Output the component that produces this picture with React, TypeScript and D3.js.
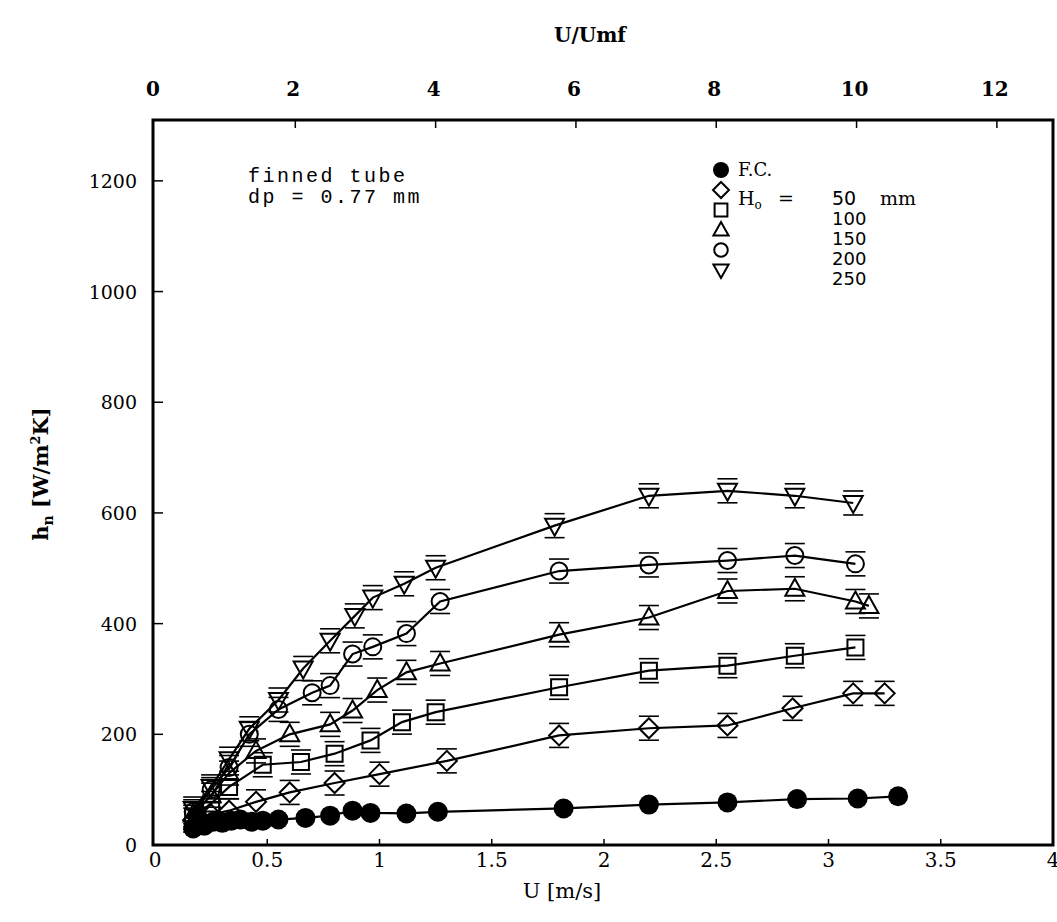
import React, { useEffect, useRef } from 'react';
import * as d3 from 'd3';

// U [m/s] -> h [W/m2K]
const fcData = [
  [0.17, 30], [0.19, 50], [0.22, 35], [0.26, 42], [0.3, 40], [0.34, 44], [0.38, 46],
  [0.43, 42], [0.48, 44], [0.55, 46], [0.67, 49], [0.78, 53], [0.88, 62], [0.96, 58],
  [1.12, 57], [1.26, 60], [1.82, 66], [2.2, 73], [2.55, 77], [2.86, 83], [3.13, 84], [3.31, 88],
];
const h50 = [
  [0.17, 45], [0.25, 55], [0.33, 62], [0.45, 78], [0.6, 95], [0.8, 112], [1.0, 128],
  [1.3, 152], [1.8, 198], [2.2, 211], [2.55, 216], [2.84, 247], [3.11, 274], [3.25, 274],
];
const h100 = [
  [0.17, 50], [0.25, 75], [0.33, 105], [0.48, 145], [0.65, 150], [0.8, 165], [0.96, 189],
  [1.1, 222], [1.25, 240], [1.8, 285], [2.2, 315], [2.55, 324], [2.85, 342], [3.12, 357],
];
const h150 = [
  [0.17, 55], [0.25, 90], [0.33, 130], [0.45, 170], [0.6, 200], [0.78, 218], [0.88, 243],
  [0.99, 280], [1.12, 312], [1.27, 328], [1.8, 380], [2.2, 411], [2.55, 459], [2.85, 463],
  [3.12, 440], [3.18, 432],
];
const h200 = [
  [0.17, 60], [0.25, 100], [0.33, 140], [0.42, 200], [0.55, 245], [0.7, 275], [0.78, 288],
  [0.88, 345], [0.97, 358], [1.12, 382], [1.27, 440], [1.8, 495], [2.2, 506], [2.55, 514],
  [2.85, 523], [3.12, 508],
];
const h250 = [
  [0.17, 65], [0.25, 105], [0.33, 155], [0.42, 210], [0.55, 262], [0.66, 319], [0.78, 369],
  [0.89, 414], [0.97, 447], [1.11, 472], [1.25, 501], [1.78, 577], [2.2, 631], [2.55, 640],
  [2.85, 631], [3.11, 618],
];

const xTicks = [0, 0.5, 1, 1.5, 2, 2.5, 3, 3.5, 4];
const xTickLabels = ['0', '0.5', '1', '1.5', '2', '2.5', '3', '3.5', '4'];
const topTicks = [0, 2, 4, 6, 8, 10, 12];
const yTicks = [0, 200, 400, 600, 800, 1000, 1200];
const legendLabels = ['F.C.', '50', '100', '150', '200', '250'];

const markerPath = (shape: string, s: number) => {
  switch (shape) {
    case 'diamond':
      return `M0,${-s}L${s},0L0,${s}L${-s},0Z`;
    case 'square':
      return `M${-s * 0.8},${-s * 0.8}H${s * 0.8}V${s * 0.8}H${-s * 0.8}Z`;
    case 'triangle':
      return `M0,${-s}L${s * 0.95},${s * 0.7}H${-s * 0.95}Z`;
    case 'tridown':
      return `M0,${s}L${s * 0.95},${-s * 0.7}H${-s * 0.95}Z`;
    default:
      return `M${s * 0.85},0A${s * 0.85},${s * 0.85} 0 1,1 ${-s * 0.85},0A${s * 0.85},${s * 0.85} 0 1,1 ${s * 0.85},0Z`;
  }
};

const App = () => {
  const ref = useRef<SVGSVGElement | null>(null);

  useEffect(() => {
    const width = 1057;
    const height = 922;
    const left = 155, right = 1053, top = 120, bottom = 845;

    const svg = d3.select(ref.current);
    svg.selectAll('*').remove();
    svg.attr('width', width).attr('height', height);

    svg.append('rect').attr('width', width).attr('height', height).attr('fill', '#fff');

    const x = d3.scaleLinear().domain([0, 4]).range([left, right]);
    const xTop = d3.scaleLinear().domain([0, 12.8]).range([left, right]);
    const y = d3.scaleLinear().domain([0, 1310]).range([bottom, top]);

    const serif = 'DejaVu Serif, serif';

    // frame
    svg.append('rect')
      .attr('x', left - 2).attr('y', top)
      .attr('width', right - left + 2).attr('height', bottom - top)
      .attr('fill', 'none').attr('stroke', '#000').attr('stroke-width', 3);

    // ticks
    const g = svg.append('g').attr('stroke', '#000').attr('stroke-width', 1.5);
    yTicks.forEach((t) => {
      g.append('line').attr('x1', left - 2).attr('x2', left + 8).attr('y1', y(t)).attr('y2', y(t));
    });
    xTicks.slice(1, -1).forEach((t) => {
      g.append('line').attr('x1', x(t)).attr('x2', x(t)).attr('y1', bottom).attr('y2', bottom - 6);
    });
    topTicks.slice(1).forEach((t) => {
      g.append('line').attr('x1', xTop(t)).attr('x2', xTop(t)).attr('y1', top).attr('y2', top + 8);
    });

    // tick labels
    svg.append('g').selectAll('text').data(yTicks).enter().append('text')
      .attr('x', 137).attr('y', (d) => y(d) + 7)
      .attr('text-anchor', 'end')
      .style('font-family', serif).style('font-size', '19px')
      .text((d) => d);

    svg.append('g').selectAll('text').data(xTicks).enter().append('text')
      .attr('x', (d) => x(d)).attr('y', 867)
      .attr('text-anchor', 'middle')
      .style('font-family', serif).style('font-size', '20px')
      .text((d, i) => xTickLabels[i]);

    svg.append('g').selectAll('text').data(topTicks).enter().append('text')
      .attr('x', (d) => xTop(d) - 2).attr('y', 96)
      .attr('text-anchor', 'middle')
      .style('font-family', serif).style('font-size', '20px').style('font-weight', 'bold')
      .text((d) => d);

    // axis titles
    svg.append('text').attr('x', 590).attr('y', 42).attr('text-anchor', 'middle')
      .style('font-family', serif).style('font-size', '20px').style('font-weight', 'bold')
      .text('U/Umf');

    svg.append('text').attr('x', 562).attr('y', 898).attr('text-anchor', 'middle')
      .style('font-family', serif).style('font-size', '21px')
      .text('U  [m/s]');

    const yt = svg.append('text')
      .attr('transform', 'translate(48,474) rotate(-90)')
      .attr('text-anchor', 'middle')
      .style('font-family', serif).style('font-size', '21px').style('font-weight', 'bold');
    yt.append('tspan').text('h');
    yt.append('tspan').attr('dy', 5).style('font-size', '14px').text('n');
    yt.append('tspan').attr('dy', -5).text('   [W/m');
    yt.append('tspan').attr('dy', -8).style('font-size', '13px').text('2');
    yt.append('tspan').attr('dy', 8).text('K]');

    // annotation
    const mono = 'Liberation Mono, monospace';
    svg.append('text').attr('x', 248).attr('y', 182)
      .style('font-family', mono).style('font-size', '20px').style('letter-spacing', '2.5px')
      .text('finned tube');
    svg.append('text').attr('x', 248).attr('y', 203)
      .style('font-family', mono).style('font-size', '20px').style('letter-spacing', '2.5px')
      .text('dp = 0.77 mm');

    // series
    const line = d3.line<number[]>().x((d) => x(d[0])).y((d) => y(d[1]));
    const series = [
      { data: h50, shape: 'diamond' },
      { data: h100, shape: 'square' },
      { data: h150, shape: 'triangle' },
      { data: h200, shape: 'circle' },
      { data: h250, shape: 'tridown' },
    ];

    series.forEach((s) => {
      svg.append('path').datum(s.data).attr('d', line)
        .attr('fill', 'none').attr('stroke', '#000').attr('stroke-width', 2.2);
      const pts = svg.append('g').selectAll('g').data(s.data).enter().append('g')
        .attr('transform', (d) => `translate(${x(d[0])},${y(d[1])})`);
      pts.append('path').attr('d', markerPath(s.shape, 10))
        .attr('fill', 'none').attr('stroke', '#000').attr('stroke-width', 2);
      pts.append('line').attr('x1', -10).attr('x2', 10).attr('y1', -12).attr('y2', -12)
        .attr('stroke', '#000').attr('stroke-width', 1.6);
      pts.append('line').attr('x1', -10).attr('x2', 10).attr('y1', 12).attr('y2', 12)
        .attr('stroke', '#000').attr('stroke-width', 1.6);
    });

    svg.append('path').datum(fcData).attr('d', line)
      .attr('fill', 'none').attr('stroke', '#000').attr('stroke-width', 2.2);
    svg.append('g').selectAll('circle').data(fcData).enter().append('circle')
      .attr('cx', (d) => x(d[0])).attr('cy', (d) => y(d[1])).attr('r', 10)
      .attr('fill', '#000');

    // legend
    const shapes = ['fc', 'diamond', 'square', 'triangle', 'circle', 'tridown'];
    const lg = svg.append('g');
    shapes.forEach((sh, i) => {
      const ly = 170 + i * 20;
      if (sh === 'fc') {
        lg.append('circle').attr('cx', 721).attr('cy', ly).attr('r', 8).attr('fill', '#000');
      } else {
        lg.append('path').attr('d', markerPath(sh, 8))
          .attr('transform', `translate(721,${ly})`)
          .attr('fill', 'none').attr('stroke', '#000').attr('stroke-width', 2);
      }
    });
    lg.append('text').attr('x', 738).attr('y', 176)
      .style('font-family', serif).style('font-size', '18px').text(legendLabels[0]);
    const ht = lg.append('text').attr('x', 738).attr('y', 205)
      .style('font-family', serif).style('font-size', '19px');
    ht.append('tspan').text('H');
    ht.append('tspan').attr('dy', 4).style('font-size', '12px').text('o');
    lg.append('text').attr('x', 778).attr('y', 205)
      .style('font-family', serif).style('font-size', '19px').text('=');
    lg.append('text').attr('x', 832).attr('y', 205)
      .style('font-family', 'DejaVu Sans, sans-serif').style('font-size', '19px')
      .text(legendLabels[1]);
    lg.append('text').attr('x', 880).attr('y', 205)
      .style('font-family', serif).style('font-size', '19px').text('mm');
    legendLabels.slice(2).forEach((lab, i) => {
      lg.append('text').attr('x', 832).attr('y', 225 + i * 20)
        .style('font-family', 'DejaVu Sans, sans-serif').style('font-size', '18px')
        .text(lab);
    });
  }, []);

  return (
    <svg ref={ref} style={{ position: 'absolute', left: 0, top: 0, display: 'block' }} />
  );
};

export default App;
